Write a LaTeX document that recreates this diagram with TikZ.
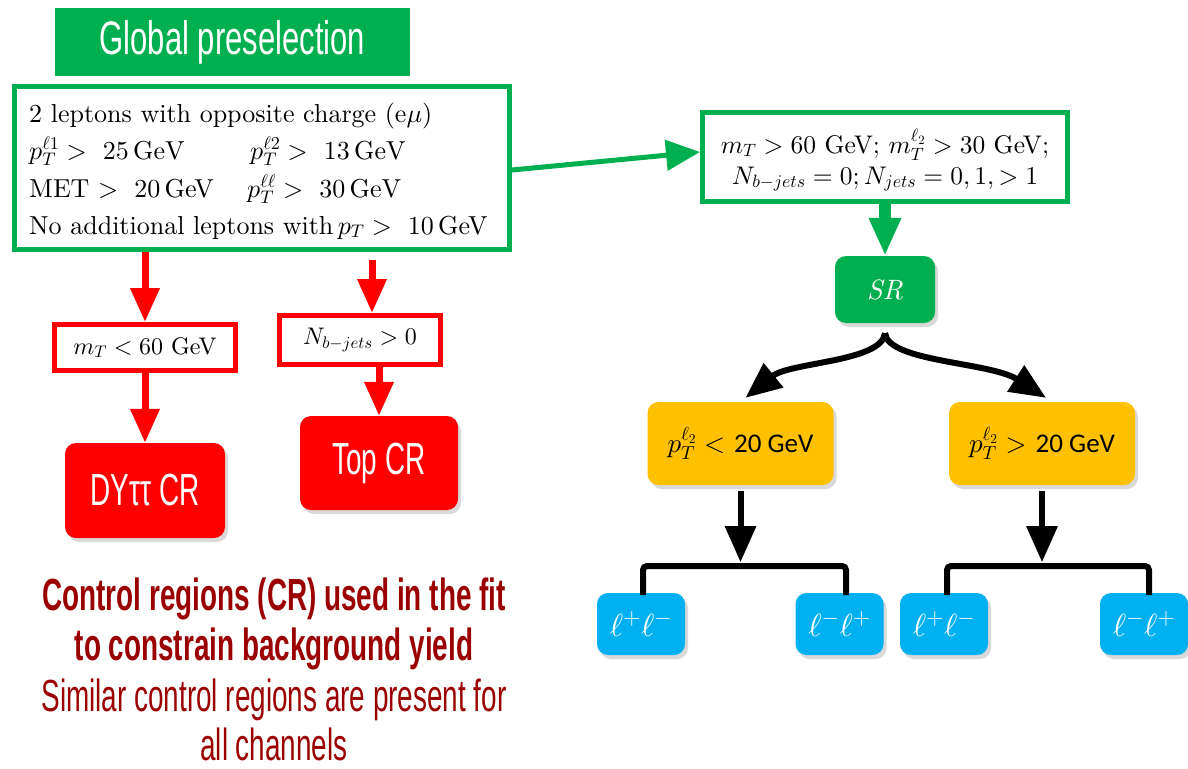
\RequirePackage{fix-cm}
\documentclass[tikz,border=0pt]{standalone}
\usepackage{amsmath}
\usepackage{fontspec}
\setmainfont{lmroman10-regular.otf}[ItalicFont=lmroman10-italic.otf, BoldFont=lmroman10-bold.otf]
\DeclareFontShape{OML}{cmm}{m}{it}{<->cmmi10}{}
\DeclareFontShape{OMS}{cmsy}{m}{n}{<->cmsy10}{}
\DeclareFontShape{OT1}{cmr}{m}{n}{<->cmr10}{}
\newfontfamily\osw[FakeStretch=0.62]{Liberation Sans}
\newfontfamily\oswg[FakeStretch=0.66]{Liberation Sans}
\newfontfamily\carl{Carlito}
\usetikzlibrary{arrows.meta,shadows}
\definecolor{gGreen}{HTML}{00B050}
\definecolor{rRed}{HTML}{FF0000}
\definecolor{yYel}{HTML}{FFC000}
\definecolor{bBlue}{HTML}{00B0F0}
\definecolor{dkRed}{HTML}{9A0000}
\tikzset{
  gbord/.style={draw=gGreen, line width=5pt, fill=white, inner sep=0pt},
  rbord/.style={draw=rRed, line width=5pt, fill=white, inner sep=0pt},
  shbox/.style={rounded corners=11pt, inner sep=0pt,
    drop shadow={shadow xshift=3pt, shadow yshift=-4pt, opacity=0.3}},
  tx/.style={inner sep=0pt, font=\fontsize{26}{30}\selectfont},
  tx2/.style={inner sep=0pt, font=\fontsize{24}{30}\selectfont},
  tx3/.style={inner sep=0pt, font=\fontsize{25.5}{30}\selectfont},
  garrow/.style={draw=gGreen, line width=5pt, -{Triangle[length=34pt,width=30pt]}},
  blockg/.style={draw=gGreen, line width=12pt, -{Triangle[length=38pt,width=30pt]}},
  rarrow/.style={draw=rRed, line width=7pt, -{Triangle[length=34pt,width=28pt]}},
  barrow/.style={draw=black, line width=6pt, -{Triangle[length=36pt,width=30pt]}},
  brk/.style={draw=black, line width=6pt, rounded corners=4pt},
  btxt/.style={inner sep=0pt, text=dkRed, anchor=base},
  bluebox/.style={shbox, fill=bBlue, minimum width=88pt, minimum height=62pt, text=white,
      font=\fontsize{32}{34}\selectfont},
  yelbox/.style={shbox, fill=yYel, minimum width=186pt, minimum height=83pt,
      font=\fontsize{27}{30}\selectfont},
}
\begin{document}
\begin{tikzpicture}[x=1pt,y=-1pt]
\useasboundingbox (0,0) rectangle (1188,768);

% ---------- left part ----------
\node[fill=gGreen, minimum width=355pt, minimum height=68pt, inner sep=0pt,
      text=white, font=\oswg\fontsize{47}{50}\selectfont] (gp) at (232.5,42) {Global preselection};

\node[gbord, minimum width=495pt, minimum height=163pt] (pre) at (262,168) {};
\node[tx, anchor=base west] (l1) at (29,122) {2 leptons with opposite charge $(\mathrm{e}\mu)$};
\node[tx, anchor=base west] (l2a) at (29,159) {$p_T^{\ell 1} >\ 25\,\mathrm{GeV}$};
\node[tx, anchor=base west] (l2b) at (250,159) {$p_T^{\ell 2} >\ 13\,\mathrm{GeV}$};
\node[tx, anchor=base west] (l3a) at (29,197) {MET $>\ 20\,$GeV};
\node[tx, anchor=base west] (l3b) at (247,197) {$p_T^{\ell\ell} >\ 30\,\mathrm{GeV}$};
\node[tx, anchor=base west] (l4) at (29,234) {No additional leptons with$\,p_T >\ 10\,$GeV};

\node[rbord, minimum width=181pt, minimum height=46pt, tx2] (mt) at (145,347.5) {$m_T < 60$ GeV};
\node[rbord, minimum width=161pt, minimum height=49pt, tx2] (nb) at (360,340) {$N_{b-jets} > 0$};

\node[shbox, fill=rRed, minimum width=160pt, minimum height=95pt, text=white,
      font=\osw\fontsize{45}{50}\selectfont] (dy) at (145,490.5) {DYττ CR};
\node[shbox, fill=rRed, minimum width=158pt, minimum height=94pt, text=white,
      font=\osw\fontsize{45}{50}\selectfont] (top) at (379,463) {Top CR};

\draw[rarrow] (pre.south -| mt.north) -- (mt.north);
\draw[rarrow] ([xshift=12pt,yshift=53pt]nb.north) -- ([xshift=12pt]nb.north);
\draw[rarrow] (mt.south) -- (dy.north);
\draw[rarrow] (nb.south -| top.north) -- (top.north);

\node[btxt, font=\osw\bfseries\fontsize{45}{50}\selectfont] (c1) at (274,610) {Control regions (CR) used in the fit};
\node[btxt, font=\osw\bfseries\fontsize{45}{50}\selectfont] (c2) at (274,660) {to constrain background yield};
\node[btxt, font=\osw\fontsize{45}{50}\selectfont] (c3) at (274,711) {Similar control regions are present for};
\node[btxt, font=\osw\fontsize{45}{50}\selectfont] (c4) at (274,760) {all channels};

% ---------- right part ----------
\node[gbord, minimum width=365pt, minimum height=89pt] (sel) at (885,157) {};
\node[tx3, anchor=base] (s1) at (885,153) {$m_T > 60$ GeV; $m_T^{\ell_2} > 30$ GeV;};
\node[tx3, anchor=base] (s2) at (885,184) {$N_{b-jets} = 0; N_{jets} = 0,1, > 1$};

\draw[garrow] ([yshift=-2pt]pre.east) -- ([yshift=5pt]sel.west);

\node[shbox, fill=gGreen, minimum width=100pt, minimum height=67pt, text=white,
      font=\itshape\fontsize{28}{30}\selectfont] (sr) at (885,289.5) {SR};
\draw[blockg] (sel.south) -- (sr.north);

\node[yelbox] (yl) at (740.5,443.5) {$p_T^{\ell_2} <$ {\carl 20 GeV}};
\node[yelbox] (yr) at (1042,443.5) {$p_T^{\ell_2} >$ {\carl 20 GeV}};

\coordinate (cusp) at ([yshift=-10pt]sr.south);
\coordinate (tl) at ([xshift=5pt,yshift=4pt]yl.north);
\coordinate (tr) at ([xshift=4pt,yshift=4pt]yr.north);
\draw[barrow] (cusp) .. controls (882,362) and (790,362) .. (tl);
\draw[barrow] (cusp) .. controls (888,362) and (990,362) .. (tr);

\node[bluebox] (b1) at (641,624) {$\ell^+\ell^-$};
\node[bluebox] (b2) at (839.5,624) {$\ell^-\ell^+$};
\node[bluebox] (b3) at (944,624) {$\ell^+\ell^-$};
\node[bluebox] (b4) at (1144,624) {$\ell^-\ell^+$};

\coordinate (bl) at ([yshift=-77pt]yl.south);
\coordinate (br) at ([yshift=-77pt]yr.south);
\draw[barrow] ([yshift=-6pt]yl.south) -- (bl);
\draw[barrow] ([yshift=-6pt]yr.south) -- (br);

\draw[brk] (643,595) -- (643,566) -- (846,566) -- (846,595);
\draw[brk] (947,595) -- (947,566) -- (1149,566) -- (1149,595);
\end{tikzpicture}
\end{document}
